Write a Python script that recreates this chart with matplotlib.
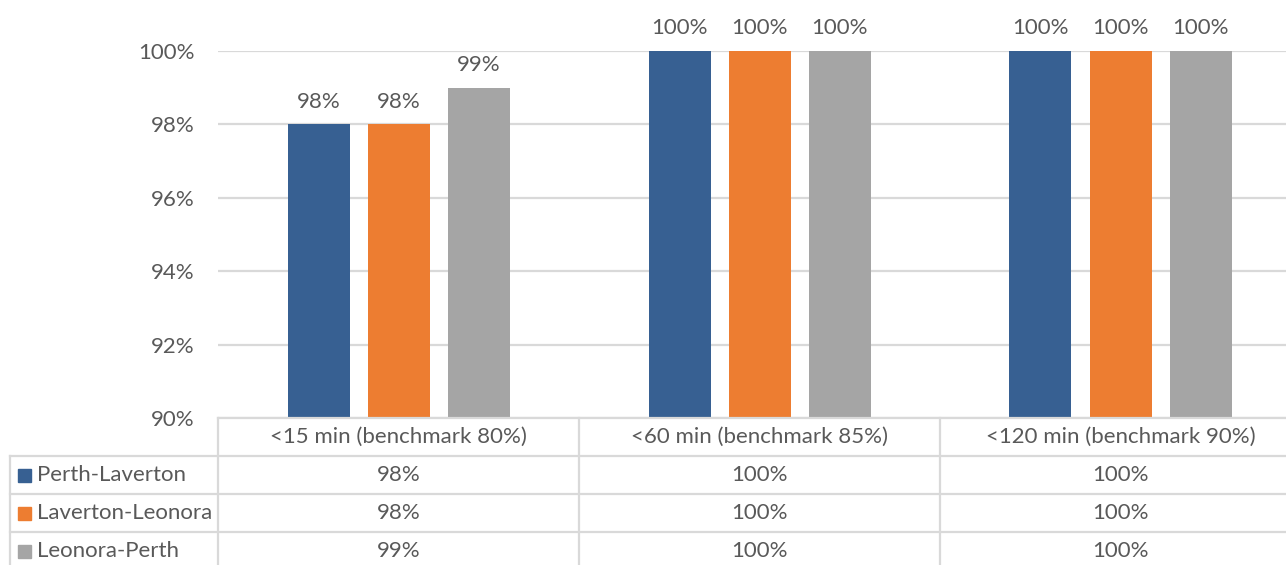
import matplotlib
matplotlib.use("Agg")
import matplotlib.pyplot as plt
from matplotlib.patches import Rectangle

categories = ["<15 min (benchmark 80%)", "<60 min (benchmark 85%)", "<120 min (benchmark 90%)"]
series = ["Perth-Laverton", "Laverton-Leonora", "Leonora-Perth"]
perth_laverton = [98, 100, 100]
laverton_leonora = [98, 100, 100]
leonora_perth = [99, 100, 100]
colors = ["#376092", "#ED7D31", "#A5A5A5"]

values = [perth_laverton, laverton_leonora, leonora_perth]

plt.rcParams["font.family"] = ["Lato", "DejaVu Sans"]
text_color = "#595959"
grid_color = "#D9D9D9"
fs = 16

W, H = 1286, 565
fig = plt.figure(figsize=(W / 100, H / 100), dpi=100)

# plot area in pixels
left_px, right_px, top_px, base_px = 218, 218 + 3 * 361, 51, 418
ax = fig.add_axes([left_px / W, (H - base_px) / H, (right_px - left_px) / W, (base_px - top_px) / H])

bar_w = 62 / 361
pitch = 80 / 361
for i, (name, vals, c) in enumerate(zip(series, values, colors)):
    xs = [k + (i - 1) * pitch for k in range(len(categories))]
    ax.bar(xs, [v - 90 for v in vals], bottom=90, width=bar_w, color=c, zorder=3)
    for x, v in zip(xs, vals):
        ax.annotate(f"{v}%", (x, v), xytext=(0, 9), textcoords="offset points",
                    ha="center", va="bottom", fontsize=fs, color=text_color,
                    annotation_clip=False)

ax.set_xlim(-0.5, len(categories) - 0.5)
ax.set_ylim(90, 100)
ax.set_yticks(range(90, 101, 2))
ax.set_yticklabels([f"{t}%" for t in range(90, 101, 2)], fontsize=fs, color=text_color)
ax.tick_params(axis="y", length=0, pad=17)
ax.tick_params(axis="x", length=0, labelbottom=False)
ax.grid(axis="y", color=grid_color, linewidth=1.6, zorder=0)
for s in ax.spines.values():
    s.set_visible(False)

# data table drawn in pixel space
tab = fig.add_axes([0, 0, 1, 1])
tab.set_xlim(0, W)
tab.set_ylim(H, 0)
tab.axis("off")

def px_x(xd):
    return ax.transData.transform((xd, 90))[0]

col_edges = [px_x(k - 0.5) for k in range(len(categories) + 1)]
row_h = 38
rows = [base_px + r * row_h for r in range(len(series) + 2)]
leg_left = 10
lw = 1.6

tab.plot([col_edges[0], col_edges[-1]], [rows[0], rows[0]], color=grid_color, lw=lw)
for r in rows[1:-1]:
    tab.plot([leg_left, col_edges[-1]], [r, r], color=grid_color, lw=lw)
for e in col_edges:
    tab.plot([e, e], [rows[0], rows[-1]], color=grid_color, lw=lw)
tab.plot([leg_left, leg_left], [rows[1], rows[-1]], color=grid_color, lw=lw)

for k, cat in enumerate(categories):
    cx = (col_edges[k] + col_edges[k + 1]) / 2
    tab.text(cx, (rows[0] + rows[1]) / 2, cat, ha="center", va="center",
             fontsize=fs, color=text_color)
    for i, vals in enumerate(values):
        tab.text(cx, (rows[i + 1] + rows[i + 2]) / 2, f"{vals[k]}%", ha="center",
                 va="center", fontsize=fs, color=text_color)

for i, (name, c) in enumerate(zip(series, colors)):
    cy = (rows[i + 1] + rows[i + 2]) / 2
    tab.add_patch(Rectangle((18, cy - 6), 13, 13, color=c))
    tab.text(37, cy, name, ha="left", va="center", fontsize=fs, color=text_color)

fig.savefig("out.png", dpi=100)
